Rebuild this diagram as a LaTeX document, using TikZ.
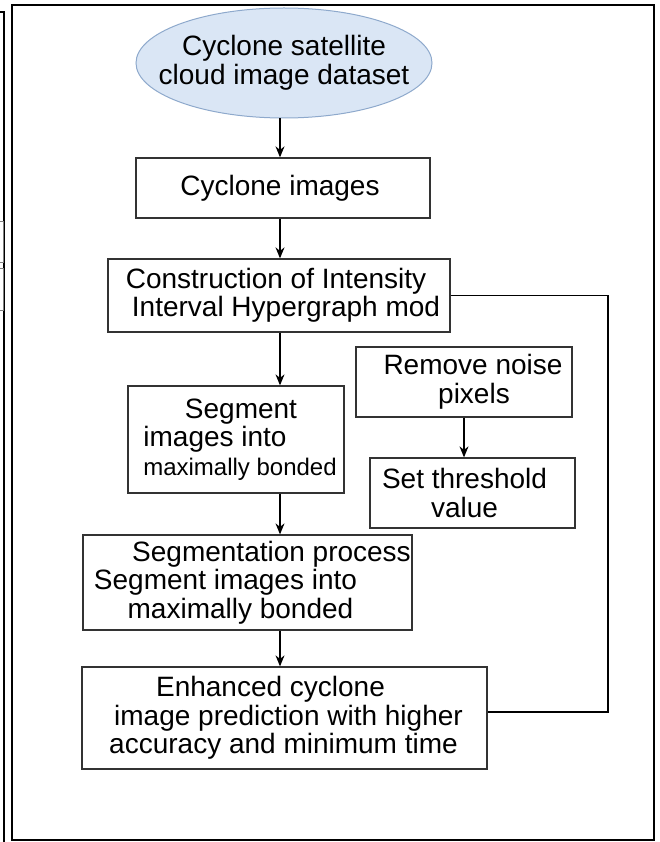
\documentclass[tikz,border=0pt]{standalone}
\usepackage{fontspec}
\setmainfont{Liberation Sans}
\usepackage{xcolor}
\usetikzlibrary{arrows.meta, positioning, shapes.geometric}
\definecolor{cloudblue}{HTML}{DAE6F5}
\definecolor{cloudedge}{HTML}{8EA9CC}
\definecolor{boxgray}{HTML}{333333}
% one line of a box, its centre moved right by #1
\newcommand{\nudge}[2]{\makebox[0pt]{\hspace*{#1}\hspace*{#1}#2}}

\begin{document}
\begin{tikzpicture}[>={Stealth[length=11pt, width=9pt]}, x=1pt, y=-1pt,
        every node/.style={font=\fontsize{28}{28.5}\selectfont, text=black},
        stage/.style={draw=boxgray, line width=1.3pt, inner sep=2pt, align=center},
        flow/.style={->, line width=1.3pt, black}]
        \useasboundingbox (0,0) rectangle (659,842);
        % Page frame
        \draw [line width=1.2pt] (12,5) rectangle (654,840);
        \draw [line width=1.2pt] (0,12) -- (4,12) -- (4,842);
        \draw [gray, line width=0.8pt] (-1,221) rectangle (3,262);
        \draw [gray, line width=0.8pt] (-1,268) rectangle (3,310);
        % Dataset
        \node[ellipse, draw=cloudedge, fill=cloudblue, line width=1pt, minimum width=296, minimum height=110, inner sep=0pt, align=center] (data) at (284,63) {\nudge{0pt}{Cyclone satellite}\\\nudge{0pt}{cloud image dataset}};
        % Main column
        \node[stage, minimum width=294, minimum height=60] (imgs) at (283,188) {\nudge{-3pt}{Cyclone images}};
        \node[stage, minimum width=342, minimum height=73] (constr) at (279,295.5) {\nudge{-3pt}{Construction of Intensity}\\\nudge{7pt}{Interval Hypergraph mod}};
        \node[stage, minimum width=216, minimum height=107] (seg) at (236,439.5) {\nudge{5pt}{Segment}\\\nudge{-21pt}{images into}\\\nudge{4pt}{\fontsize{24}{28.5}\selectfont maximally bonded}};
        \node[stage, minimum width=329, minimum height=95] (proc) at (247.5,582.5) {\nudge{24pt}{Segmentation process}\\\nudge{-22pt}{Segment images into}\\\nudge{-7pt}{maximally bonded}};
        \node[stage, minimum width=405, minimum height=102] (enh) at (284.5,718) {\nudge{-14pt}{Enhanced cyclone}\\\nudge{4pt}{image prediction with higher}\\\nudge{-1pt}{accuracy and minimum time}};
        % Side column
        \node[stage, minimum width=216, minimum height=70] (rem) at (464,382) {\nudge{9pt}{Remove noise}\\\nudge{10pt}{pixels}};
        \node[stage, minimum width=205, minimum height=70] (thr) at (472.5,493) {\nudge{-8pt}{Set threshold}\\\nudge{-8pt}{value}};
        % Arrows
        \coordinate (spine) at (280,0);
        \draw [flow] (data.south -| spine) -- (imgs.north -| spine);
        \draw [flow] (imgs.south -| spine) -- (constr.north -| spine);
        \draw [flow] (constr.south -| spine) -- (seg.north -| spine);
        \draw [flow] (seg.south -| spine) -- (proc.north -| spine);
        \draw [flow] (proc.south -| spine) -- (enh.north -| spine);
        \draw [flow] (rem.south) -- (rem.south |- thr.north);
        % Feedback line
        \coordinate (fb) at (608,712);
        \draw [line width=1.3pt] (constr.east) -| (fb) -- (fb -| enh.east);
    \end{tikzpicture}
\end{document}
